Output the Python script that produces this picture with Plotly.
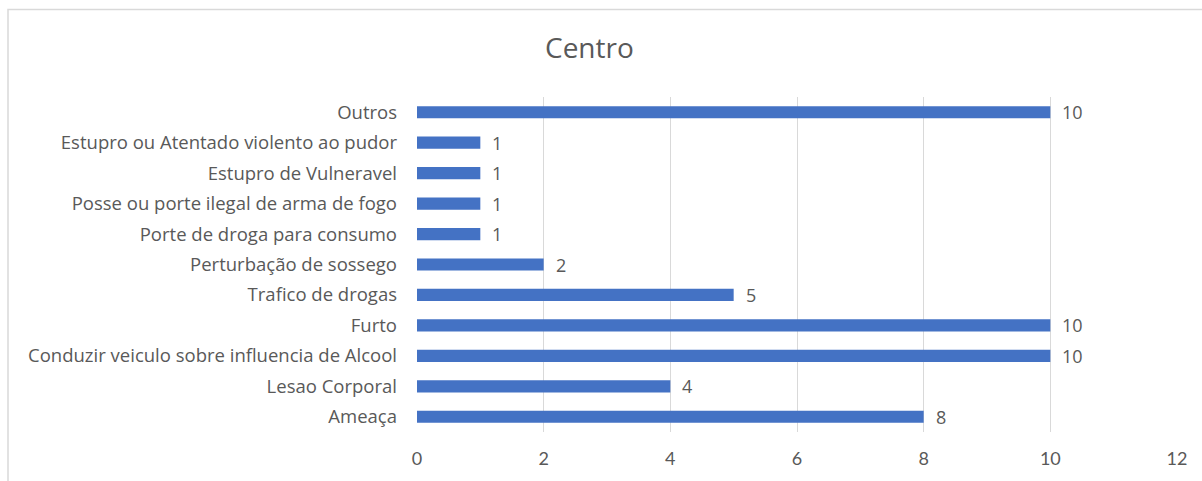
import plotly.graph_objects as go

categories = [
    "Ameaça",
    "Lesao Corporal",
    "Conduzir veiculo sobre influencia de Alcool",
    "Furto",
    "Trafico de drogas",
    "Perturbação de sossego",
    "Porte de droga para consumo",
    "Posse ou porte ilegal de arma de fogo",
    "Estupro de Vulneravel",
    "Estupro ou Atentado violento ao pudor",
    "Outros",
]
values = [8, 4, 10, 10, 5, 2, 1, 1, 1, 1, 10]
x_ticks = [0, 2, 4, 6, 8, 10, 12]

BAR = "#4472C4"
GRAY = "#595959"
FONT = "Open Sans"
NUMFONT = "Lato"

fig = go.Figure()
fig.add_trace(go.Bar(
    x=values, y=categories, orientation="h",
    marker=dict(color=BAR, line=dict(width=0)),
    width=0.4, hoverinfo="skip",
))

for c, v in zip(categories, values):
    fig.add_annotation(x=v, y=c, text=str(v), showarrow=False,
                       xanchor="left", xshift=10,
                       font=dict(family=FONT, size=18, color=GRAY))

W, H = 1202, 481
ml, mr, mt, mb = 417, 25, 97, 47
pw, ph = W - ml - mr, H - mt - mb

def px(x):
    return (x - ml) / pw

def py(y):
    return (H - mb - y) / ph

fig.add_shape(type="rect", xref="paper", yref="paper",
              x0=px(8), y0=py(530), x1=px(1250), y1=py(9),
              line=dict(color="#d9d9d9", width=1.5), fillcolor="rgba(0,0,0,0)",
              layer="below")

fig.add_annotation(xref="paper", yref="paper", x=px(589), y=py(47),
                   text="Centro", showarrow=False, xanchor="center", yanchor="middle",
                   font=dict(family=FONT, size=28, color=GRAY))

fig.update_layout(
    width=W, height=H,
    margin=dict(l=ml, r=mr, t=mt, b=mb, pad=0),
    paper_bgcolor="white", plot_bgcolor="white",
    showlegend=False,
    bargap=0.6,
    xaxis=dict(range=[0, 12], tickvals=x_ticks, showgrid=True, gridcolor="#d9d9d9",
               gridwidth=1, zeroline=False, showline=False, ticks="",
               tickfont=dict(family=NUMFONT, size=18, color=GRAY),
               ticklabelstandoff=14, fixedrange=True),
    yaxis=dict(categoryorder="array", categoryarray=categories,
               showgrid=False, zeroline=False, showline=False, ticks="",
               tickfont=dict(family=FONT, size=18.5, color=GRAY),
               ticklabelstandoff=19, fixedrange=True),
)

fig.write_html("out.html")
